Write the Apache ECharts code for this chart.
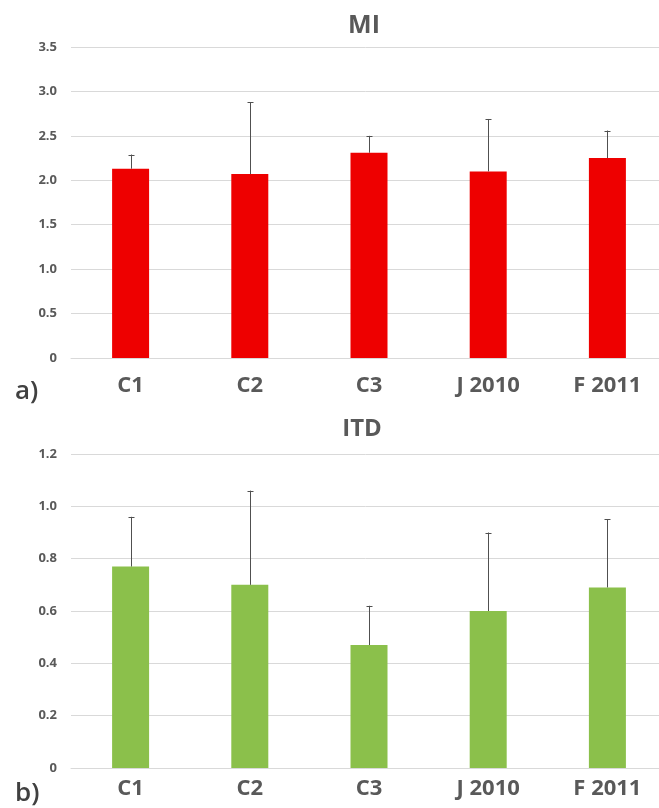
<!DOCTYPE html>
<html>
<head>
<meta charset="utf-8">
<script src="https://cdn.jsdelivr.net/npm/echarts@6/dist/echarts.min.js"></script>
<style>
  html, body { margin: 0; padding: 0; background: #ffffff; }
  #chart { width: 659px; height: 808px; }
</style>
</head>
<body>
<div id="chart"></div>
<script>
// Site / period categories shared by both panels
const categories = ['C1', 'C2', 'C3', 'J 2010', 'F 2011'];

// Panel a) MI: mean and upper error (standard deviation)
const miMean = [2.13, 2.07, 2.31, 2.10, 2.25];
const miErr  = [0.16, 0.81, 0.19, 0.59, 0.31];

// Panel b) ITD: mean and upper error (standard deviation)
const itdMean = [0.77, 0.70, 0.47, 0.60, 0.69];
const itdErr  = [0.19, 0.36, 0.15, 0.30, 0.26];

const FONT = '"Open Sans", "DejaVu Sans", sans-serif';
const TEXT = '#595959';
const GRID_LINE = '#d9d9d9';

function errData(mean, err) {
  return mean.map((m, i) => [i, m, m + err[i]]);
}

// Upper-only error whisker with a small cap
function renderErr(params, api) {
  const base = api.coord([api.value(0), api.value(1)]);
  const top = api.coord([api.value(0), api.value(2)]);
  const x = Math.round(base[0]) + 0.5;
  const half = 3;
  const style = { stroke: '#505050', lineWidth: 1 };
  return {
    type: 'group',
    children: [
      { type: 'line', shape: { x1: x, y1: base[1], x2: x, y2: top[1] }, style },
      { type: 'line', shape: { x1: x - half, y1: Math.round(top[1]) + 0.5, x2: x + half, y2: Math.round(top[1]) + 0.5 }, style }
    ]
  };
}

function xAxisCfg(gridIndex, margin) {
  return {
    type: 'category',
    gridIndex,
    data: categories,
    axisLine: { lineStyle: { color: GRID_LINE, width: 1 } },
    axisTick: { show: false },
    axisLabel: { margin, color: TEXT, fontFamily: FONT, fontWeight: 'bold', fontSize: 22 }
  };
}

function yAxisCfg(gridIndex, max, interval) {
  return {
    type: 'value',
    gridIndex,
    min: 0,
    max,
    interval,
    axisLine: { show: false },
    axisTick: { show: false },
    splitLine: { lineStyle: { color: GRID_LINE, width: 1 } },
    axisLabel: {
      margin: 14,
      color: TEXT,
      fontFamily: FONT,
      fontWeight: 'bold',
      fontSize: 13,
      formatter: v => (v === 0 ? '0' : v.toFixed(1))
    }
  };
}

const chart = echarts.init(document.getElementById('chart'), null, { renderer: 'canvas' });

chart.setOption({
  animation: false,
  backgroundColor: '#ffffff',
  title: [
    {
      text: 'MI', left: 359, top: 8, textAlign: 'center',
      textStyle: { fontFamily: FONT, fontWeight: 'bold', fontSize: 25, color: TEXT }
    },
    {
      text: 'ITD', left: 357, top: 412, textAlign: 'center',
      textStyle: { fontFamily: FONT, fontWeight: 'bold', fontSize: 24, color: TEXT }
    }
  ],
  graphic: [
    { type: 'text', left: 15, top: 379, style: { text: 'a)', font: '600 26px "Open Sans", sans-serif', fill: '#404040' } },
    { type: 'text', left: 15, top: 781, style: { text: 'b)', font: '600 26px "Open Sans", sans-serif', fill: '#404040' } }
  ],
  grid: [
    { left: 71, top: 47, width: 596, height: 311, outerBoundsMode: 'none' },
    { left: 71, top: 454, width: 596, height: 314, outerBoundsMode: 'none' }
  ],
  xAxis: [xAxisCfg(0, 17), xAxisCfg(1, 10)],
  yAxis: [yAxisCfg(0, 3.5, 0.5), yAxisCfg(1, 1.2, 0.2)],
  series: [
    {
      name: 'MI', type: 'bar', xAxisIndex: 0, yAxisIndex: 0,
      data: miMean, barWidth: 37, itemStyle: { color: '#ee0000' }
    },
    {
      name: 'MI error', type: 'custom', xAxisIndex: 0, yAxisIndex: 0,
      data: errData(miMean, miErr), renderItem: renderErr, z: 5,
      encode: { x: 0, y: [1, 2] }
    },
    {
      name: 'ITD', type: 'bar', xAxisIndex: 1, yAxisIndex: 1,
      data: itdMean, barWidth: 37, itemStyle: { color: '#8bc04b' }
    },
    {
      name: 'ITD error', type: 'custom', xAxisIndex: 1, yAxisIndex: 1,
      data: errData(itdMean, itdErr), renderItem: renderErr, z: 5,
      encode: { x: 0, y: [1, 2] }
    }
  ]
});
</script>
</body>
</html>
